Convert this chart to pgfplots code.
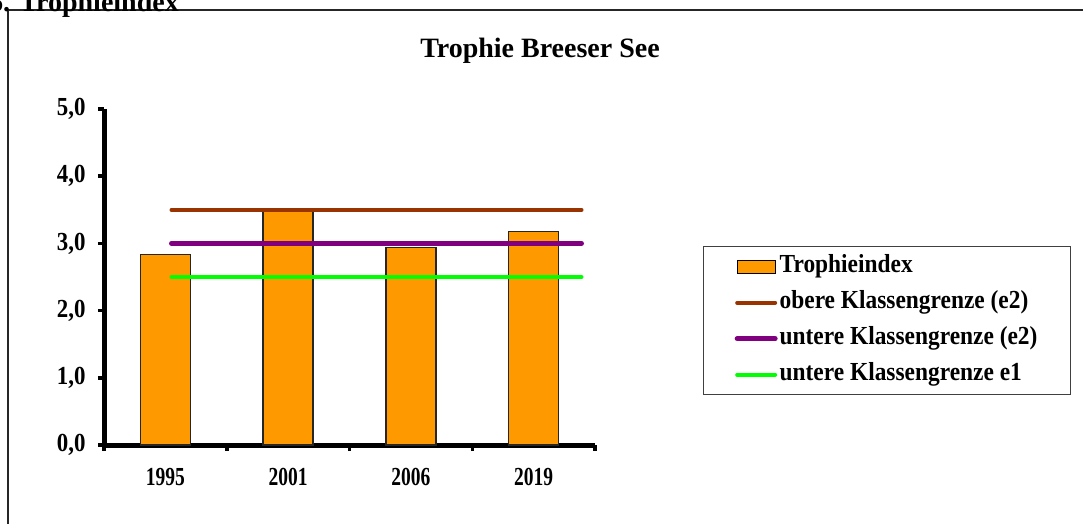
\documentclass[border=0pt]{standalone}
\usepackage{fontspec}
\setmainfont{Liberation Serif}
\newfontfamily\xtf[FakeStretch=0.75]{Liberation Serif}
\newfontfamily\ytf[FakeStretch=0.88]{Liberation Serif}
\newfontfamily\lgf[FakeStretch=0.9]{Liberation Serif}
\usepackage{pgfplots}
\pgfplotsset{compat=1.18}
\definecolor{barorange}{HTML}{FF9900}
\definecolor{linebrown}{HTML}{993300}
\definecolor{linepurple}{HTML}{800080}
\definecolor{linegreen}{HTML}{00FF00}
\begin{document}
\begin{tikzpicture}
\useasboundingbox (0,0) rectangle (1083pt,523pt);
\clip (0,0) rectangle (1083pt,523pt);
\fill[white] (0,0) rectangle (1083pt,523pt);
\draw[line width=2pt, black!85] (8pt,-20pt) -- (8pt,513pt) -- (1100pt,513pt);
\node[anchor=base west, inner sep=0pt, font=\fontsize{28}{32}\selectfont\bfseries] at (-11pt,511pt) {6. Trophieindex};
\node[anchor=base, inner sep=0pt, font=\fontsize{28}{32}\selectfont\bfseries] at (540pt,465pt) {Trophie Breeser See};
\begin{axis}[
  at={(104pt,78pt)}, anchor=south west,
  scale only axis, width=491pt, height=336pt,
  xmin=-0.5, xmax=3.5, ymin=0, ymax=5,
  axis x line=bottom, axis y line=left,
  axis line style={-, line width=5pt, black},
  clip=false,
  tick align=outside,
  major tick length=6pt,
  tick style={line width=3.5pt, black},
  xtick={-0.5,0.5,1.5,2.5,3.5},
  xticklabels={,,,,,},
  extra x ticks={0,1,2,3},
  extra x tick labels={1995,2001,2006,2019},
  extra x tick style={major tick length=0pt},
  xticklabel style={font=\xtf\fontsize{26}{30}\selectfont\bfseries, anchor=north, yshift=-20pt},
  ytick={0,1,2,3,4,5},
  yticklabel style={font=\ytf\fontsize{26}{30}\selectfont\bfseries, anchor=east, xshift=-9pt},
  /pgf/number format/.cd, fixed, fixed zerofill, precision=1, use comma, assume math mode=true,
  /pgfplots/.cd,
  legend style={at={(1.22,0.592)}, anchor=north west, draw=black!75, line width=1.3pt,
    font=\lgf\fontsize{26}{30}\selectfont\bfseries, inner xsep=31pt, inner ysep=5pt,
    row sep=6pt, nodes={inner sep=2pt, text height=19pt, text depth=7pt}},
  legend cell align=left,
]
\addplot[ybar, bar width=50pt, fill=barorange, draw=black!85, line width=1.3pt,
  legend image code/.code={\draw[fill=barorange, draw=black, line width=1.3pt] (0pt,-6.5pt) rectangle (38pt,6.5pt);}]
  coordinates {(0,2.84) (1,3.49) (2,2.94) (3,3.18)};
\addlegendentry{Trophieindex}
\addplot[linebrown, line width=4pt, line cap=round,
  legend image code/.code={\draw[linebrown, line width=4pt, line cap=round] (0pt,0pt) -- (38pt,0pt);}]
  coordinates {(0.05,3.5) (3.39,3.5)};
\addlegendentry{obere Klassengrenze (e2)}
\addplot[linepurple, line width=5pt, line cap=round,
  legend image code/.code={\draw[linepurple, line width=5pt, line cap=round] (0pt,0pt) -- (38pt,0pt);}]
  coordinates {(0.05,3.0) (3.39,3.0)};
\addlegendentry{untere Klassengrenze (e2)}
\addplot[linegreen, line width=4pt, line cap=round,
  legend image code/.code={\draw[linegreen, line width=4pt, line cap=round] (0pt,0pt) -- (38pt,0pt);}]
  coordinates {(0.05,2.5) (3.39,2.5)};
\addlegendentry{untere Klassengrenze e1}
\end{axis}
\end{tikzpicture}
\end{document}
